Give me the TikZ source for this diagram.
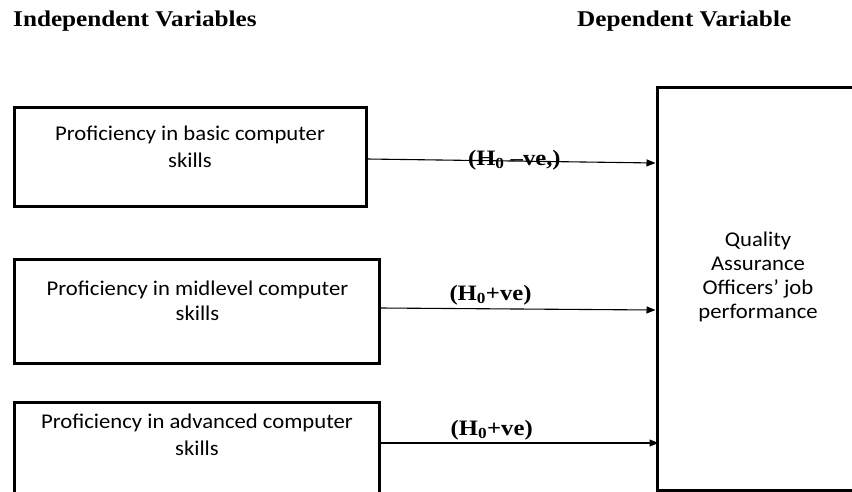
\documentclass[tikz,border=0pt]{standalone}
\usepackage{fontspec}
\setmainfont{Liberation Serif}
\newfontfamily\boxfont[FakeStretch=1.08]{Carlito}
\newfontfamily\headfont[FakeStretch=1.12]{Liberation Serif}
\usetikzlibrary{arrows.meta,positioning}
\tikzset{varbox/.style={rectangle, draw=black, line width=3pt, inner sep=0pt}, vartext/.style={font=\boxfont\fontsize{21}{27}\selectfont, align=center, inner sep=0pt}, header/.style={font=\headfont\bfseries\fontsize{22.5}{26}\selectfont, inner sep=0pt}, hyplabel/.style={font=\headfont\bfseries\fontsize{22}{25}\selectfont, inner sep=0pt}, conn/.style={-{Triangle[length=9pt,width=7pt]}, line width=1.1pt, draw=black}}

\begin{document}
\begin{tikzpicture}[x=1pt,y=1pt]
\useasboundingbox (0,0) rectangle (852,-491);
\node[header, anchor=base west] (indep) at (13,-26) {Independent Variables};
\node[header, anchor=base west] (dep) at (577,-26) {Dependent Variable};
\node[varbox, minimum width=352pt, minimum height=99pt] (basic) at (190,-156.5) {};
\node[varbox, minimum width=365pt, minimum height=104pt] (midlevel) at (196.5,-311) {};
\node[varbox, minimum width=365pt, minimum height=93pt] (advanced) at (196.5,-448.5) {};
\node[varbox, minimum width=213pt, minimum height=403pt] (perf) at (763.5,-288.5) {};
% base = last line
\node[vartext, anchor=base] (basictxt) at (190,-167) {Proficiency in basic computer\\skills};
\node[vartext, font=\boxfont\fontsize{21}{25}\selectfont, anchor=base] (midleveltxt) at (197.5,-320) {Proficiency in midlevel computer\\skills};
\node[vartext, anchor=base] (advancedtxt) at (197,-455) {Proficiency in advanced computer\\skills};
\node[vartext, font=\boxfont\fontsize{21}{24}\selectfont, anchor=base] (perftxt) at (758,-318) {Quality\\Assurance\\Officers’ job\\performance};
\draw[conn] ([yshift=-2.5pt]basic.east) -- ([yshift=-6.5pt]basic.east -| perf.west) node[hyplabel, pos=0.51, anchor=base, yshift=-4pt] (hyp1) {(H\textsubscript{0} –ve,)};
\draw[conn] ([yshift=3pt]midlevel.east) -- ([yshift=1pt]midlevel.east -| perf.west) node[hyplabel, pos=0.4, anchor=base, yshift=8pt] (hyp2) {(H\textsubscript{0}+ve)};
\draw[conn] ([yshift=5.5pt]advanced.east) -- ([xshift=3pt, yshift=5.5pt]advanced.east -| perf.west) node[hyplabel, pos=0.4, anchor=base, yshift=8pt] (hyp3) {(H\textsubscript{0}+ve)};
\end{tikzpicture}
\end{document}
